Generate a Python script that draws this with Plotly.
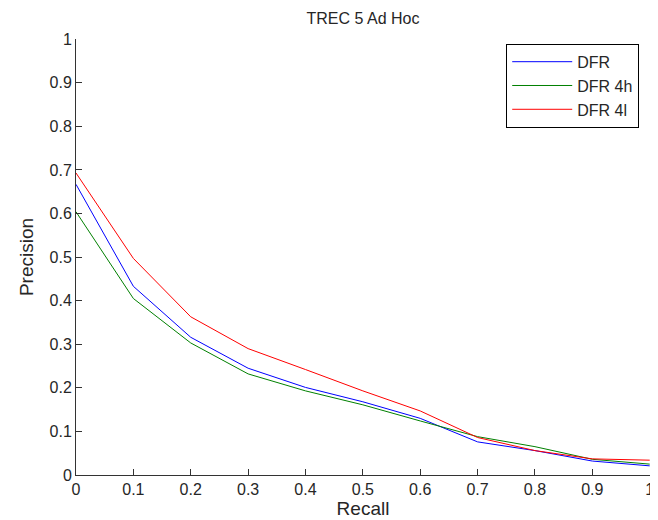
import plotly.graph_objects as go

recall = [0, 0.1, 0.2, 0.3, 0.4, 0.5, 0.6, 0.7, 0.8, 0.9, 1.0]
dfr = [0.667, 0.433, 0.316, 0.245, 0.201, 0.168, 0.130, 0.076, 0.056, 0.032, 0.021]
dfr_4h = [0.604, 0.405, 0.303, 0.232, 0.193, 0.161, 0.124, 0.088, 0.065, 0.036, 0.025]
dfr_4l = [0.693, 0.497, 0.363, 0.290, 0.242, 0.193, 0.147, 0.086, 0.056, 0.037, 0.034]

series = [("DFR", dfr, "#0000ff"), ("DFR 4h", dfr_4h, "#008000"), ("DFR 4l", dfr_4l, "#ff0000")]
tick_vals = [0, 0.1, 0.2, 0.3, 0.4, 0.5, 0.6, 0.7, 0.8, 0.9, 1]
tick_text = ["0", "0.1", "0.2", "0.3", "0.4", "0.5", "0.6", "0.7", "0.8", "0.9", "1"]

FONT = "Liberation Sans, Arial, sans-serif"
TXT = "#262626"

fig = go.Figure()
for name, vals, color in series:
    fig.add_trace(go.Scatter(x=recall, y=vals, mode="lines", name=name,
                             line=dict(color=color, width=1)))

axis_common = dict(showgrid=False, zeroline=False, showline=True, linecolor="#333333",
                   linewidth=1, ticks="inside", ticklen=6, tickcolor="#333333",
                   tickvals=tick_vals, ticktext=tick_text, automargin=False,
                   tickfont=dict(family=FONT, size=16, color=TXT))

# the page body has an 8px default margin, so the figure is 8px smaller
fig.update_layout(
    width=650, height=512,
    margin=dict(l=68, r=8, t=31, b=45),
    paper_bgcolor="white", plot_bgcolor="white",
    title=dict(text="TREC 5 Ad Hoc", xref="paper", x=0.5, xanchor="center",
               yref="container", y=0.9795, yanchor="middle",
               font=dict(family=FONT, size=16, color=TXT)),
    font=dict(family=FONT, size=16, color=TXT),
    xaxis=dict(range=[0, 1.0005], title=dict(text="Recall", standoff=0), **axis_common),
    yaxis=dict(range=[0, 1.0005], title=dict(text="Precision", standoff=10), **axis_common),
    legend=dict(x=0.7495, y=0.989, xanchor="left", yanchor="top",
                bordercolor="black", borderwidth=1, bgcolor="white",
                entrywidth=104, itemwidth=60,
                font=dict(family=FONT, size=16, color=TXT)),
)

fig.write_html("out.html")
